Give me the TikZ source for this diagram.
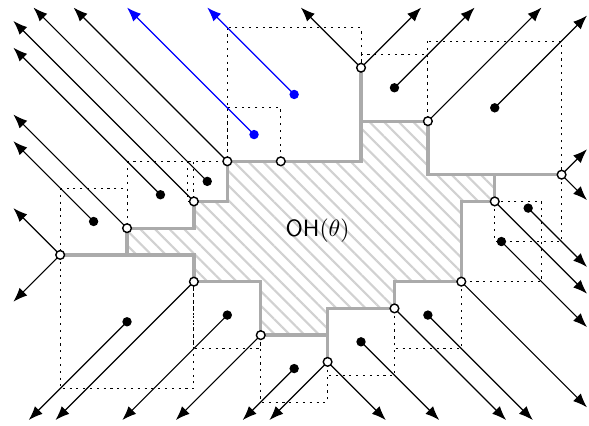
\documentclass[tikz,border=0pt]{standalone}
\usetikzlibrary{arrows.meta,patterns.meta}
\begin{document}
\begin{tikzpicture}[x=1mm,y=1mm,
  hull/.style={draw=black!33,line width=1.4pt},
  hatch/.style={pattern={Lines[angle=-45,distance=4.4pt,line width=0.9pt]},pattern color=black!18},
  sq/.style={draw=black,line width=0.4pt,dash pattern=on 0.9pt off 2pt},
  arr/.style={draw=black,line width=0.5pt,-{Latex[length=6pt,width=4.6pt]}},
  barr/.style={arr,draw=blue,fill=blue},
  opn/.style={circle,draw=black,fill=white,line width=0.6pt,inner sep=0pt,minimum size=3.7pt},
  fil/.style={circle,fill=black,inner sep=0pt,minimum size=4pt},
  bfil/.style={fil,fill=blue}]
\useasboundingbox (0,0.127) rectangle (88.1,-63.45);
% hull vertices (open circles)
\coordinate (A) at (54,-10);
\coordinate (B) at (64,-18);
\coordinate (C) at (84,-26);
\coordinate (D) at (74,-30);
\coordinate (E) at (69,-42);
\coordinate (F) at (59,-46);
\coordinate (G) at (49,-54);
\coordinate (H) at (39,-50);
\coordinate (I) at (29,-42);
\coordinate (J) at (9,-38);
\coordinate (K) at (19,-34);
\coordinate (L) at (29,-30);
\coordinate (M) at (34,-24);
\coordinate (N) at (42,-24);
% inner points
\coordinate (f1) at (59,-13);
\coordinate (f2) at (74,-16);
\coordinate (f3) at (31,-27);
\coordinate (f4) at (24,-29);
\coordinate (f5) at (14,-33);
\coordinate (f6) at (19,-48);
\coordinate (f7) at (34,-47);
\coordinate (f8) at (44,-55);
\coordinate (f9) at (54,-51);
\coordinate (f10) at (64,-47);
\coordinate (f11) at (75,-36);
\coordinate (f12) at (79,-31);
\coordinate (b1) at (44,-14);
\coordinate (b2) at (38,-20);
% arrow ends
\coordinate (eA1) at (45,-1);
\coordinate (eA2) at (63,-1);
\coordinate (ef1) at (71,-1);
\coordinate (eB) at (81,-1);
\coordinate (ef2) at (87.8,-2.2);
\coordinate (eC1) at (87.8,-22.2);
\coordinate (eC2) at (87.8,-29.8);
\coordinate (ef12) at (87.8,-39.8);
\coordinate (eD) at (87.8,-43.8);
\coordinate (ef11) at (87.8,-48.8);
\coordinate (eE) at (87.8,-60.8);
\coordinate (ef10) at (79.7,-62.7);
\coordinate (eF) at (75.7,-62.7);
\coordinate (ef9) at (65.7,-62.7);
\coordinate (eG1) at (57.7,-62.7);
\coordinate (eG2) at (40.3,-62.7);
\coordinate (ef8) at (36.3,-62.7);
\coordinate (eH) at (26.3,-62.7);
\coordinate (ef7) at (18.3,-62.7);
\coordinate (eI) at (8.3,-62.7);
\coordinate (ef6) at (4.3,-62.7);
\coordinate (eJ1) at (2,-45);
\coordinate (eJ2) at (2,-31);
\coordinate (ef5) at (2,-21);
\coordinate (eK) at (2,-17);
\coordinate (ef4) at (2,-7);
\coordinate (eL) at (2,-3);
\coordinate (ef3) at (5,-1);
\coordinate (eM) at (11,-1);
\coordinate (eb2) at (19,-1);
\coordinate (eb1) at (31,-1);
% hatched hull
\fill[hatch] (M) -- (54,-24) -- (54,-18) -- (B) -- (64,-26) -- (74,-26) -- (D) -- (69,-30) -- (E) -- (59,-42) -- (F) -- (49,-46) -- (49,-50) -- (H) -- (39,-42) -- (I) -- (29,-38) -- (19,-38) -- (K) -- (29,-34) -- (L) -- (34,-30) -- cycle;
% dotted squares
\foreach \a/\b/\c/\d in {34/4/54/24, 34/16/42/24, 54/8/64/18, 64/6/84/26, 74/26/84/36, 69/30/81/42, 59/42/69/52, 49/46/59/56, 39/50/49/60, 29/42/39/52, 9/38/29/58, 9/28/19/38, 19/24/29/34, 28/24/34/30}
  \draw[sq] (\a,-\b) rectangle (\c,-\d);
% hull boundary
\draw[hull] (M) -- (54,-24) -- (54,-18) -- (B) -- (64,-26) -- (74,-26) -- (D) -- (69,-30) -- (E) -- (59,-42) -- (F) -- (49,-46) -- (49,-50) -- (H) -- (39,-42) -- (I) -- (29,-38) -- (19,-38) -- (K) -- (29,-34) -- (L) -- (34,-30) -- cycle;
\draw[hull,line cap=rect] (A) -- (54,-18);
\draw[hull,line cap=rect] (74,-26) -- (C);
\draw[hull,line cap=rect] (49,-50) -- (G);
\draw[hull,line cap=rect] (19,-38) -- (J);
% arrows
\foreach \p/\q in {A/eA1, A/eA2, f1/ef1, B/eB, f2/ef2, C/eC1, C/eC2, f12/ef12, D/eD, f11/ef11, E/eE, f10/ef10, F/eF, f9/ef9, G/eG1, G/eG2, f8/ef8, H/eH, f7/ef7, I/eI, f6/ef6, J/eJ1, J/eJ2, f5/ef5, K/eK, f4/ef4, L/eL, f3/ef3, M/eM}
  \draw[arr] (\p) -- (\q);
\draw[barr] (b1) -- (eb1);
\draw[barr] (b2) -- (eb2);
% points
\foreach \p in {A,B,C,D,E,F,G,H,I,J,K,L,M,N}
  \node[opn] (n\p) at (\p) {};
\foreach \p in {f1,f2,f3,f4,f5,f6,f7,f8,f9,f10,f11,f12}
  \node[fil] (n\p) at (\p) {};
\node[bfil] (nb1) at (b1) {};
\node[bfil] (nb2) at (b2) {};
\node[anchor=base] (lbl) at (47.5,-35.2) {\textsf{OH}$(\theta)$};
\end{tikzpicture}
\end{document}
